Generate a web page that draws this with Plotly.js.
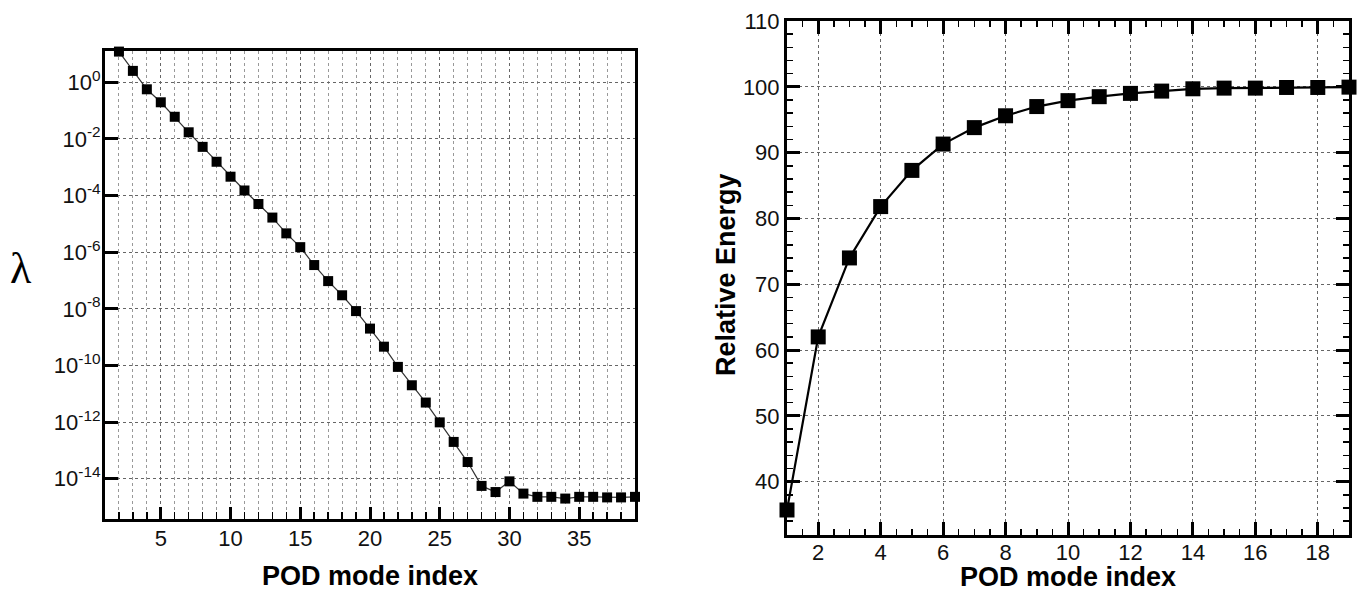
<!DOCTYPE html>
<html>
<head>
<meta charset="utf-8">
<script src="https://cdn.plot.ly/plotly-3.0.1.min.js"></script>
<style>
  html, body { margin: 0; padding: 0; background: #fff; }
  #chart { width: 1362px; height: 592px; }
</style>
</head>
<body>
<div id="chart"></div>
<script>
// POD eigenvalue spectrum (left) and cumulative relative energy (right)
const modeIndex = [2, 3, 4, 5, 6, 7, 8, 9, 10, 11, 12, 13, 14, 15, 16, 17, 18, 19, 20,
  21, 22, 23, 24, 25, 26, 27, 28, 29, 30, 31, 32, 33, 34, 35, 36, 37, 38, 39];
const eigenvalues = [12, 2.5, 0.56, 0.195, 0.060, 0.017, 5.2e-3, 1.55e-3, 4.6e-4, 1.5e-4,
  5.0e-5, 1.66e-5, 4.6e-6, 1.5e-6, 3.5e-7, 9.5e-8, 3.0e-8, 8.3e-9, 2.0e-9,
  4.6e-10, 8.9e-11, 2.0e-11, 4.9e-12, 9.8e-13, 2.0e-13, 3.9e-14, 5.6e-15, 3.4e-15,
  8.1e-15, 3.0e-15, 2.3e-15, 2.3e-15, 2.0e-15, 2.3e-15, 2.3e-15, 2.2e-15, 2.2e-15, 2.3e-15];

const energyModes = [1, 2, 3, 4, 5, 6, 7, 8, 9, 10, 11, 12, 13, 14, 15, 16, 17, 18, 19];
const relativeEnergy = [35.7, 62.0, 74.0, 81.8, 87.3, 91.3, 93.8, 95.6, 97.0, 97.9,
  98.5, 99.0, 99.35, 99.7, 99.8, 99.8, 99.9, 99.9, 99.95];

// log-axis tick positions and their labels
const lambdaTickVals = [1, 1e-2, 1e-4, 1e-6, 1e-8, 1e-10, 1e-12, 1e-14];
const lambdaTickText = ['10<sup>0</sup>', '10<sup>-2</sup>', '10<sup>-4</sup>', '10<sup>-6</sup>',
  '10<sup>-8</sup>', '10<sup>-10</sup>', '10<sup>-12</sup>', '10<sup>-14</sup>'];

const W = 1362, H = 592;
const sans = 'Liberation Sans, Arial, sans-serif';
const tickFont = { family: sans, size: 22, color: '#111' };
const titleFont = { family: sans, size: 27, color: '#000', weight: 'bold' };

const traces = [
  {
    x: modeIndex, y: eigenvalues, xaxis: 'x', yaxis: 'y',
    type: 'scatter', mode: 'lines+markers', cliponaxis: false,
    line: { color: '#333', width: 1.2 },
    marker: { symbol: 'square', size: 10, color: '#000' }
  },
  {
    x: energyModes, y: relativeEnergy, xaxis: 'x2', yaxis: 'y2',
    type: 'scatter', mode: 'lines+markers', cliponaxis: false,
    line: { color: '#000', width: 2.2 },
    marker: { symbol: 'square', size: 15, color: '#000' }
  }
];

const axisBase = {
  showline: true, linecolor: '#000', linewidth: 3,
  ticks: 'inside', tickcolor: '#000', tickwidth: 3, ticklen: 12,
  tickfont: tickFont, zeroline: false,
  showgrid: true, griddash: 'dot', gridcolor: '#666', gridwidth: 1
};

// axis captions, placed in page pixels
function caption(text, px, py, extra) {
  return Object.assign({
    text: text, xref: 'paper', yref: 'paper',
    x: px / W, y: (H - py) / H, xanchor: 'center', yanchor: 'middle',
    showarrow: false, font: titleFont
  }, extra || {});
}

const layout = {
  width: W, height: H,
  margin: { l: 0, r: 0, t: 0, b: 0 },
  paper_bgcolor: '#fff', plot_bgcolor: '#fff',
  showlegend: false,
  xaxis: Object.assign({}, axisBase, {
    domain: [105 / W, 635 / W], anchor: 'y',
    range: [1, 39], tick0: 0, dtick: 5, mirror: true, ticklabelstandoff: -2,
    minor: { dtick: 1, tick0: 0, ticks: 'inside', ticklen: 7, tickwidth: 1.5, tickcolor: '#000',
      showgrid: true, griddash: 'dot', gridcolor: '#999', gridwidth: 1 }
  }),
  yaxis: Object.assign({}, axisBase, {
    domain: [(H - 519) / H, (H - 51) / H], anchor: 'x',
    type: 'log', range: [-15.42, 1.1], mirror: true, ticklen: 13, ticklabelstandoff: -3,
    tickvals: lambdaTickVals, ticktext: lambdaTickText
  }),
  xaxis2: Object.assign({}, axisBase, {
    domain: [787 / W, 1349 / W], anchor: 'y2',
    range: [1, 19], tick0: 0, dtick: 2, mirror: 'ticks', ticklen: 13, ticklabelstandoff: -4,
    minor: { dtick: 0.5, tick0: 0, ticks: 'inside', ticklen: 6, tickwidth: 1.5, tickcolor: '#000',
      showgrid: false }
  }),
  yaxis2: Object.assign({}, axisBase, {
    domain: [(H - 535) / H, (H - 21) / H], anchor: 'x2',
    range: [31.9, 110], tick0: 0, dtick: 10, mirror: 'ticks', ticklen: 13,
    minor: { dtick: 2, tick0: 0, ticks: 'inside', ticklen: 6, tickwidth: 1.5, tickcolor: '#000',
      showgrid: false }
  }),
  annotations: [
    caption('POD mode index', 370, 576),
    caption('POD mode index', 1068, 577),
    caption('Relative Energy', 726, 275, { textangle: -90 }),
    caption('λ', 21, 268, { font: { family: 'Liberation Serif, Times New Roman, serif', size: 44, color: '#000' } })
  ]
};

Plotly.newPlot('chart', traces, layout, { displayModeBar: false, staticPlot: true });
</script>
</body>
</html>
